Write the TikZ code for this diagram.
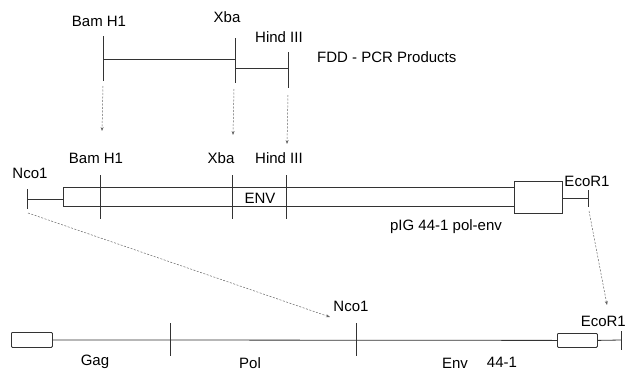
\documentclass[tikz,border=0pt]{standalone}
\usepackage{fontspec}
\setmainfont{Liberation Sans}
\usetikzlibrary{arrows.meta}
\begin{document}
\begin{tikzpicture}[x=1pt,y=-1pt,
  lbl/.style={inner sep=0pt, font=\fontsize{15}{18}\selectfont},
  ln/.style={line width=0.8pt, draw=black!80},
  darr/.style={dash pattern=on 2pt off 1.5pt, line width=0.5pt, draw=black!60, -{Stealth[length=4pt,width=3pt]}},
  box/.style={draw=black!80, line width=0.8pt, fill=white, inner sep=0pt}]
\useasboundingbox (0,0) rectangle (626,372);

% ---------- top: FDD-PCR products ----------
\node[lbl] (tBam) at (99,21) {Bam H1};
\node[lbl] (tXba) at (227,17) {Xba};
\node[lbl] (tHind) at (279,37) {Hind III};
\node[lbl, anchor=west] (fdd) at (317,57) {FDD - PCR Products};

\coordinate (tB1) at (103,36);  \coordinate (tB2) at (103,81);
\coordinate (tX1) at (235,38);  \coordinate (tX2) at (235,83);
\coordinate (tH1) at (288,52);  \coordinate (tH2) at (288,88);
\coordinate (tBm) at (103,59);  \coordinate (tXm) at (235,59);
\coordinate (tXn) at (235,68);  \coordinate (tHn) at (288,68);
\draw[ln] (tB1) -- (tB2);
\draw[ln] (tX1) -- (tX2);
\draw[ln] (tH1) -- (tH2);
\draw[ln] (tBm) -- (tXm);
\draw[ln] (tXn) -- (tHn);

% ---------- middle: pIG 44-1 pol-env ----------
\node[lbl] (mNco) at (30,173) {Nco1};
\node[lbl] (mBam) at (96,158) {Bam H1};
\node[lbl] (mXba) at (221,158) {Xba};
\node[lbl] (mHind) at (279,158) {Hind III};
\node[lbl] (mEco) at (587,181) {EcoR1};
\node[lbl] (mPig) at (446,227) {pIG 44-1 pol-env};

\coordinate (mN1) at (27,189); \coordinate (mN2) at (27,209);
\coordinate (mNl) at (27,199);
\node[box, anchor=north west, minimum width=451pt, minimum height=19pt] (mRect) at (63,187) {};
\node[box, anchor=north west, minimum width=48pt, minimum height=32pt] (mSmall) at (514,181) {};
\node[lbl] (mEnv) at (260,198) {ENV};
\coordinate (mE1) at (588,190); \coordinate (mE2) at (588,207);
\coordinate (mEl) at (588,198);
\draw[ln] (mN1) -- (mN2);
\draw[ln] (mNl) -- (mNl -| mRect.west);
\draw[ln] (mSmall.east |- mEl) -- (mEl);
\draw[ln] (mE1) -- (mE2);
\coordinate (mB1) at (100,175); \coordinate (mB2) at (100,219);
\coordinate (mX1) at (232,175); \coordinate (mX2) at (232,219);
\coordinate (mH1) at (286,175); \coordinate (mH2) at (286,219);
\draw[ln] (mB1) -- (mB2);
\draw[ln] (mX1) -- (mX2);
\draw[ln] (mH1) -- (mH2);

% ---------- bottom: 44-1 genome ----------
\node[box, anchor=north west, minimum width=41pt, minimum height=15pt, rounded corners=1pt] (bL) at (11,332) {};
\node[box, anchor=north west, minimum width=40pt, minimum height=14pt, rounded corners=1pt] (bR) at (557,333) {};
\coordinate (bEnd) at (621,340);
\coordinate (bEnd1) at (621,331); \coordinate (bEnd2) at (621,350);
\draw[ln] (bL.east) -- (bR.west);
\draw[ln] (bR.east) -- (bEnd);
\draw[ln] (bEnd1) -- (bEnd2);
\coordinate (bG1) at (170,323); \coordinate (bG2) at (170,356);
\coordinate (bP1) at (356,323); \coordinate (bP2) at (356,356);
\draw[ln] (bG1) -- (bG2);
\draw[ln] (bP1) -- (bP2);
\node[lbl] (bNco) at (351,306) {Nco1};
\node[lbl, anchor=east] (bEco) at (626,321) {EcoR1};
\node[lbl] (bGag) at (95,362) {Gag};
\node[lbl] (bPol) at (250,363) {Pol};
\node[lbl] (bEnv) at (455,363) {Env};
\node[lbl] (b441) at (502,362) {44-1};

% ---------- dashed arrows ----------
\coordinate (aB0) at (103,86);  \coordinate (aB1) at (102,131);
\coordinate (aX0) at (234,89);  \coordinate (aX1) at (233,135);
\coordinate (aH0) at (288,95);  \coordinate (aH1) at (287,144);
\coordinate (aN0) at (28,213);  \coordinate (aN1) at (330,317);
\coordinate (aE0) at (589,211); \coordinate (aE1) at (607,305);
\draw[darr] (aB0) -- (aB1);
\draw[darr] (aX0) -- (aX1);
\draw[darr] (aH0) -- (aH1);
\draw[darr] (aN0) -- (aN1);
\draw[darr] (aE0) -- (aE1);
\end{tikzpicture}
\end{document}
